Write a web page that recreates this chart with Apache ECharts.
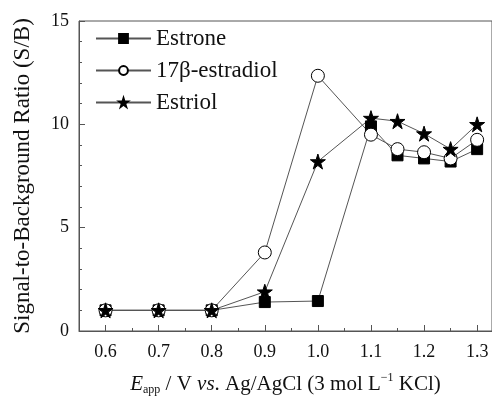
<!DOCTYPE html>
<html>
<head>
<meta charset="utf-8">
<script src="https://cdn.jsdelivr.net/npm/echarts@6/dist/echarts.min.js"></script>
<style>
  html, body { margin: 0; padding: 0; background: #fff; }
  #chart { width: 492px; height: 405px; }
</style>
</head>
<body>
<div id="chart"></div>
<script>
var potentials = [0.6, 0.7, 0.8, 0.9, 1.0, 1.1, 1.15, 1.2, 1.25, 1.3];
var estrone = [1, 1, 1, 1.4, 1.45, 9.9, 8.5, 8.35, 8.2, 8.8];
var estradiol = [1, 1, 1, 3.8, 12.35, 9.5, 8.8, 8.65, 8.35, 9.25];
var estriol = [1, 1, 1, 1.9, 8.2, 10.3, 10.15, 9.55, 8.8, 10.0];
var majorTicks = [0.6, 0.7, 0.8, 0.9, 1.0, 1.1, 1.2, 1.3];
var minorTicks = [0.65, 0.75, 0.85, 0.95, 1.05, 1.15, 1.25];

var font = 'Liberation Serif';
var lineColor = '#555';

function pairs(vals) {
    return potentials.map(function (x, i) { return [x, vals[i]]; });
}

function makeSeries(name, vals, symbol, size, fill) {
    return {
        name: name,
        type: 'line',
        xAxisIndex: 0,
        data: pairs(vals),
        symbol: symbol,
        symbolSize: size,
        showAllSymbol: true,
        lineStyle: { color: lineColor, width: 1 },
        itemStyle: { color: fill, borderColor: '#000', borderWidth: 1 },
        emphasis: { disabled: true }
    };
}

var option = {
    animation: false,
    backgroundColor: '#fff',
    textStyle: { fontFamily: font },
    grid: {
        left: 79, top: 21, right: -1, bottom: 74,
        show: true, borderColor: lineColor, borderWidth: 1
    },
    legend: {
        left: 95, top: 27,
        padding: 0,
        orient: 'vertical',
        itemWidth: 55, itemHeight: 11,
        itemGap: 9,
        textStyle: { fontFamily: font, fontSize: 23, color: '#111' },
        data: ['Estrone', '17β-estradiol', 'Estriol']
    },
    xAxis: [
        {
            type: 'value',
            min: 0.55, max: 1.328,
            position: 'bottom',
            name: '{i|E}{sub|app} / V {i|vs}. Ag/AgCl (3 mol L{sup|−1} KCl)',
            nameLocation: 'middle',
            nameGap: 41,
            nameTextStyle: {
                fontFamily: font, fontSize: 21, color: '#111',
                rich: {
                    i: { fontFamily: font, fontSize: 21, fontStyle: 'italic', color: '#111' },
                    sub: { fontFamily: font, fontSize: 12, color: '#111', verticalAlign: 'bottom', padding: [12, 0, 0, 0] },
                    sup: { fontFamily: font, fontSize: 12, color: '#111', verticalAlign: 'top', padding: [0, 0, 10, 0] }
                }
            },
            axisLine: { lineStyle: { color: lineColor, width: 1 } },
            axisTick: { inside: true, length: 6, customValues: majorTicks, lineStyle: { color: lineColor } },
            axisLabel: {
                customValues: majorTicks,
                fontFamily: font, fontSize: 18, color: '#111', margin: 12,
                formatter: function (v) { return v.toFixed(1); }
            },
            splitLine: { show: false }
        },
        {
            type: 'value',
            min: 0.55, max: 1.328,
            position: 'bottom',
            axisLine: { show: false },
            axisTick: { inside: true, length: 3, customValues: minorTicks, lineStyle: { color: lineColor } },
            axisLabel: { show: false },
            splitLine: { show: false }
        }
    ],
    yAxis: {
        type: 'value',
        min: 0, max: 15, interval: 5,
        name: 'Signal-to-Background Ratio (S/B)',
        nameLocation: 'middle',
        nameGap: 45,
        nameTextStyle: { fontFamily: font, fontSize: 23, color: '#111' },
        axisLine: { show: true, lineStyle: { color: lineColor, width: 1 } },
        axisTick: { inside: true, length: 6, lineStyle: { color: lineColor } },
        minorTick: { show: true, splitNumber: 5, length: 3, lineStyle: { color: lineColor } },
        axisLabel: { fontFamily: font, fontSize: 18, color: '#111', margin: 10 },
        splitLine: { show: false }
    },
    series: [
        makeSeries('Estrone', estrone, 'rect', 11, '#000'),
        makeSeries('17β-estradiol', estradiol, 'circle', 13, '#fff'),
        makeSeries('Estriol', estriol, 'path://M50,0 L61.8,36.2 L100,36.2 L69.1,58.8 L80.9,95.1 L50,72.6 L19.1,95.1 L30.9,58.8 L0,36.2 L38.2,36.2 Z', 15, '#000')
    ]
};

var chart = echarts.init(document.getElementById('chart'));
chart.setOption(option);
</script>
</body>
</html>
